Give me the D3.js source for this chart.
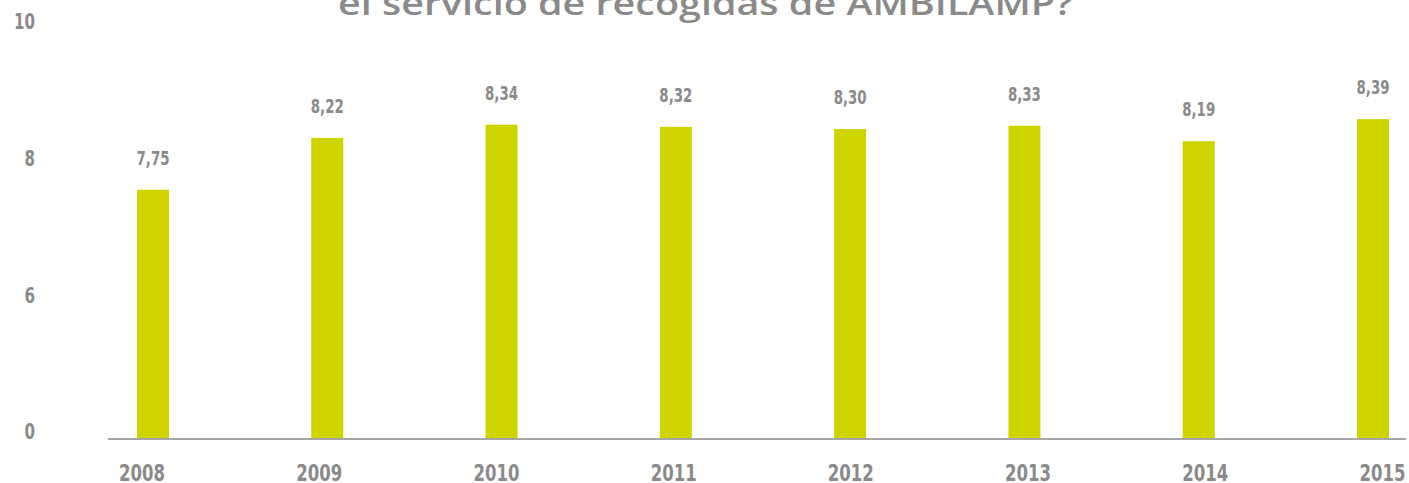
<!DOCTYPE html>
<html>
<head>
<meta charset="utf-8">
<script src="https://d3js.org/d3.v7.min.js"></script>
<style>
  body { margin: 0; background: #fff; }
  svg { display: block; }
</style>
</head>
<body>
<div id="chart"></div>
<script>
var years = ["2008", "2009", "2010", "2011", "2012", "2013", "2014", "2015"];
var scores = [7.75, 8.22, 8.34, 8.32, 8.30, 8.33, 8.19, 8.39];
var yTickLabels = ["10", "8", "6", "0"];
var titleText = "el servicio de recogidas de AMBILAMP?";

var W = 1409, H = 483;
var BAR_W = 32;
var GREY = "#8a8a8a";
var BAR_COLOR = "#cdd400";
var numFont = "'Liberation Sans Narrow', 'DejaVu Sans Condensed', 'DejaVu Sans', sans-serif";

var svg = d3.select("#chart").append("svg")
    .attr("width", W)
    .attr("height", H);

// title, cut off by the top edge as in the picture
svg.append("text")
    .attr("x", 338)
    .attr("y", 15)
    .attr("textLength", 735)
    .attr("lengthAdjust", "spacingAndGlyphs")
    .style("font-family", "'Open Sans', sans-serif")
    .style("font-weight", 600)
    .style("font-size", "32px")
    .style("fill", GREY)
    .text(titleText);

// bars sit on a truncated value axis
var y = d3.scaleLinear().domain([5.5, 8.5]).range([438, 107]);
var xBar = d3.scalePoint().domain(years).range([153, 1373]);
var xLabel = d3.scalePoint().domain(years).range([141.5, 1382]);
var yTicks = d3.scalePoint().domain(yTickLabels).range([22, 432]);

var data = years.map(function(d, i) { return {year: d, value: scores[i]}; });

svg.selectAll(".bar")
    .data(data)
    .enter().append("rect")
    .attr("class", "bar")
    .attr("x", function(d) { return xBar(d.year) - BAR_W / 2; })
    .attr("y", function(d) { return y(d.value); })
    .attr("width", BAR_W)
    .attr("height", function(d) { return y.range()[0] - y(d.value); })
    .style("fill", BAR_COLOR);

svg.selectAll(".val")
    .data(data)
    .enter().append("text")
    .attr("class", "val")
    .attr("x", function(d) { return xBar(d.year); })
    .attr("y", function(d) { return y(d.value) - 25; })
    .attr("text-anchor", "middle")
    .attr("textLength", 33)
    .attr("lengthAdjust", "spacingAndGlyphs")
    .style("font-family", numFont)
    .style("font-weight", "bold")
    .style("font-size", "20px")
    .style("fill", GREY)
    .text(function(d) { return d3.format(".2f")(d.value).replace(".", ","); });

// baseline
svg.append("line")
    .attr("x1", 108).attr("x2", 1406)
    .attr("y1", 439).attr("y2", 439)
    .style("stroke", "#a6a6a6")
    .style("stroke-width", 2);

// y tick labels
var yAxis = svg.append("g")
    .attr("transform", "translate(35,0)")
    .call(d3.axisLeft(yTicks).tickSize(0).tickPadding(0));
yAxis.select(".domain").remove();
yAxis.selectAll("text")
    .attr("textLength", function(d) { return d.length * 10.5; })
    .attr("lengthAdjust", "spacingAndGlyphs")
    .style("font-family", numFont)
    .style("font-weight", "bold")
    .style("font-size", "21px")
    .style("fill", GREY);

// year labels
var xAxis = svg.append("g")
    .attr("transform", "translate(0,481)")
    .call(d3.axisBottom(xLabel).tickSize(0).tickPadding(0));
xAxis.select(".domain").remove();
xAxis.selectAll("text")
    .attr("dy", 0)
    .attr("textLength", 46)
    .attr("lengthAdjust", "spacingAndGlyphs")
    .style("font-family", numFont)
    .style("font-weight", "bold")
    .style("font-size", "23px")
    .style("fill", GREY);
</script>
</body>
</html>
